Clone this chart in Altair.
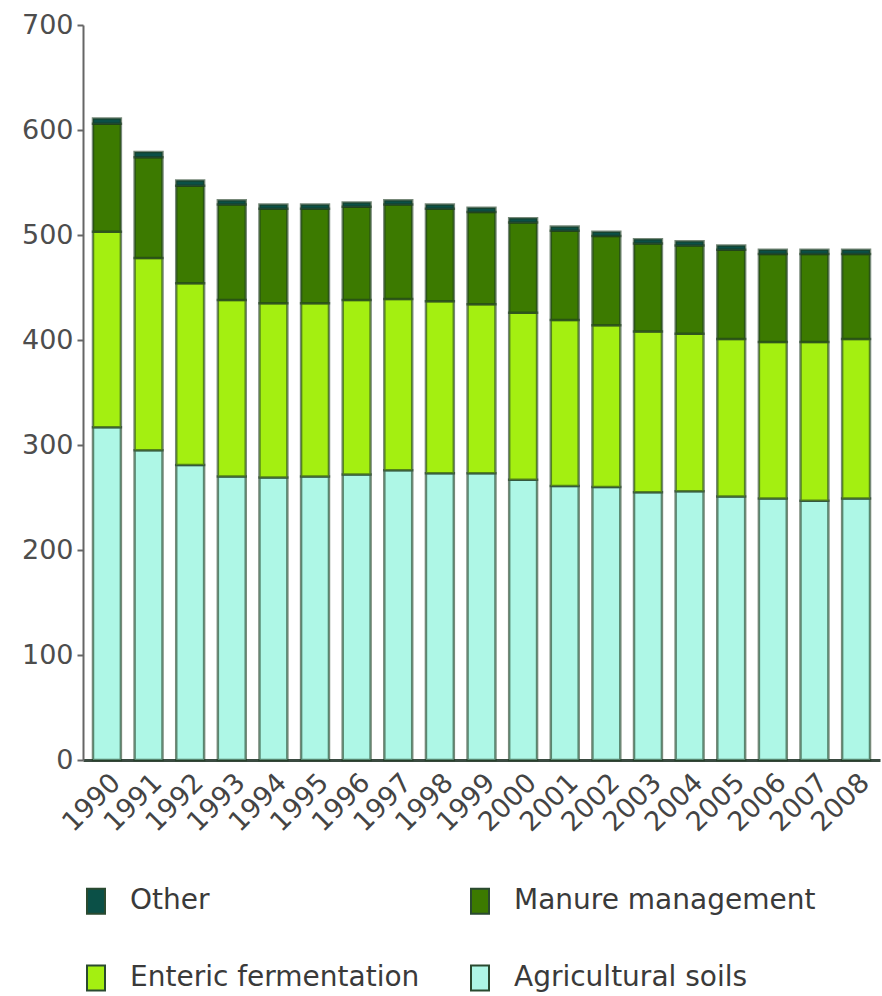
import altair as alt
import pandas as pd

# Agricultural greenhouse gas emissions by source, 1990-2008
years = [str(y) for y in range(1990, 2009)]
agricultural_soils = [317, 295, 281, 270, 269, 270, 272, 276, 273, 273,
                      267, 261, 260, 255, 256, 251, 249, 247, 249]
enteric_fermentation = [186, 183, 173, 168, 166, 165, 166, 163, 164, 161,
                        159, 158, 154, 153, 150, 150, 149, 151, 152]
manure_management = [103, 96, 93, 91, 90, 90, 89, 90, 88, 88,
                     86, 85, 85, 84, 84, 85, 84, 84, 81]
other = [5, 5, 5, 4, 4, 4, 4, 4, 4, 4,
         4, 4, 4, 4, 4, 4, 4, 4, 4]

sources = ["Agricultural soils", "Enteric fermentation", "Manure management", "Other"]
series = [agricultural_soils, enteric_fermentation, manure_management, other]

rows = []
for rank, (name, vals) in enumerate(zip(sources, series)):
    for yr, v in zip(years, vals):
        rows.append({"year": yr, "source": name, "value": v, "rank": rank})
df = pd.DataFrame(rows)

legend_order = ["Other", "Manure management", "Enteric fermentation", "Agricultural soils"]
legend_colors = ["#0b5047", "#3c7a00", "#a4ef11", "#aef7e6"]

font = "DejaVu Sans"

bars = alt.Chart(df).mark_bar(
    stroke="#1c3a20", strokeOpacity=0.6, strokeWidth=2.5
).encode(
    x=alt.X(
        "year:N",
        sort=years,
        scale=alt.Scale(paddingInner=0.33, paddingOuter=0.24),
        axis=alt.Axis(
            title=None, labelAngle=-45, labelFontSize=27, labelFont=font,
            labelColor="#444444", ticks=False, domainColor="#3a4a40",
            domainWidth=3, labelPadding=9,
        ),
    ),
    y=alt.Y(
        "value:Q",
        stack="zero",
        scale=alt.Scale(domain=[0, 700]),
        axis=alt.Axis(
            title=None, values=[0, 100, 200, 300, 400, 500, 600, 700],
            grid=False, labelFontSize=27, labelFont=font, labelColor="#4d4d4d",
            tickSize=6, tickColor="#666666", tickWidth=2,
            domainColor="#666666", domainWidth=2, labelPadding=4,
        ),
    ),
    color=alt.Color(
        "source:N",
        scale=alt.Scale(domain=legend_order, range=legend_colors),
        legend=alt.Legend(
            title=None, orient="none", legendX=-1, legendY=862,
            direction="horizontal", columns=2, columnPadding=46, rowPadding=43,
            labelFontSize=28, labelFont=font, labelColor="#3a3a3a",
            labelOffset=20, labelLimit=500, padding=0,
            symbolType="M-0.72,-1H0.72V1H-0.72Z", symbolSize=625,
            symbolStrokeColor="#2a4a30", symbolStrokeWidth=2, symbolOpacity=1,
        ),
    ),
    order=alt.Order("rank:Q", sort="ascending"),
).properties(
    width=797,
    height=735,
    autosize=alt.AutoSizeParams(type="none"),
    padding={"left": 83, "top": 25, "right": 2, "bottom": 236},
).configure_view(stroke=None)

chart = bars
chart.save("out.html", embed_options={"renderer": "svg", "actions": False})
